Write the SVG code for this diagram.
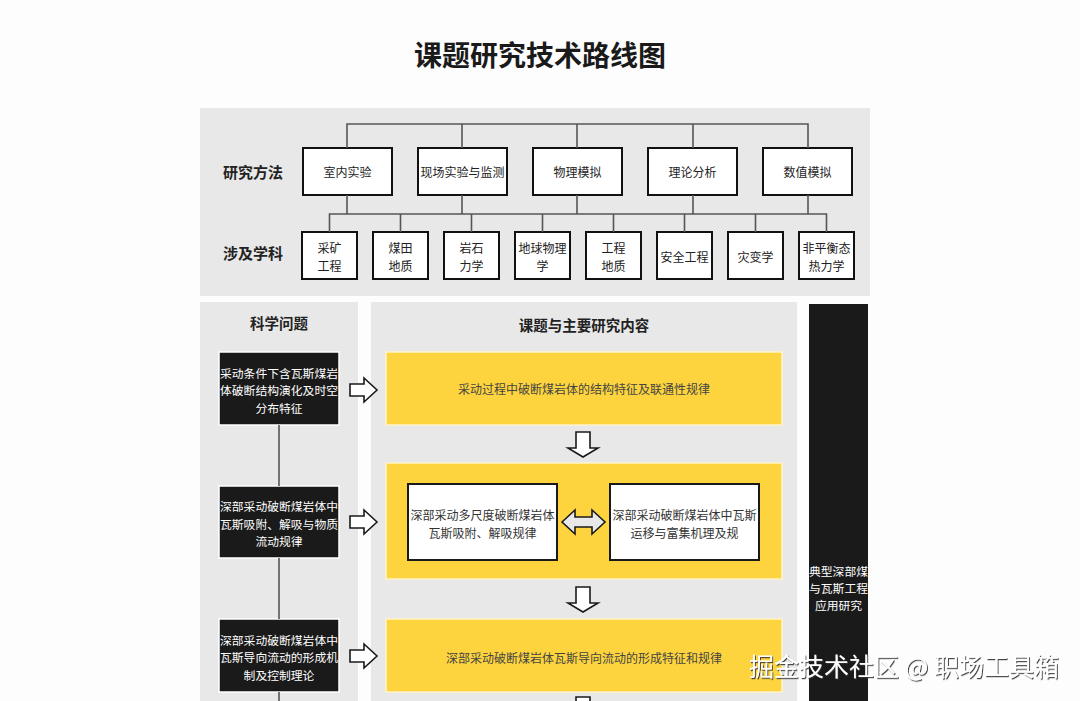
<svg xmlns="http://www.w3.org/2000/svg" width="1080" height="701" viewBox="0 0 1080 701">
<defs>
<style>
text{font-family:"Noto Sans CJK SC","Noto Sans",sans-serif;text-anchor:middle;dominant-baseline:central}
.title{font-size:28px;font-weight:bold;fill:#1a1a1a}
.panel{fill:#e8e8e8}
.rowlab{font-size:15px;font-weight:bold;fill:#222}
.head{font-size:14.5px;font-weight:bold;fill:#222}
.mbox{fill:#fff;stroke:#111;stroke-width:2}
.mt{font-size:12px;fill:#222}
.dark{fill:#1a1a1a;stroke:#fff;stroke-width:1.5}
.wt{font-size:11.8px;fill:#fff}
.yel{fill:#fdd43e;stroke:#fff3c8;stroke-width:1.5}
.yt{font-size:12px;fill:#444}
.ibox{fill:#fff;stroke:#1a1a1a;stroke-width:2}
.it{font-size:12px;fill:#333}
.ln{stroke:#555;stroke-width:1.6;fill:none}
.harrow{fill:#fff;stroke:#1a1a1a;stroke-width:1.6;stroke-linejoin:miter}
.darrow{fill:#e8e8e8;stroke:#1a1a1a;stroke-width:1.6}
.wm{font-size:25px;fill:#fff;text-anchor:middle}
</style>
<filter id="sh" x="-5%" y="-20%" width="110%" height="150%">
<feDropShadow dx="1" dy="1.2" stdDeviation="0.6" flood-color="#333" flood-opacity="0.9"/>
</filter>
</defs>
<rect width="1080" height="701" fill="#fdfdfd"/>
<text class="title" x="540" y="54">课题研究技术路线图</text>

<!-- panels -->
<rect class="panel" x="200" y="108" width="670" height="188"/>
<rect class="panel" x="200" y="302" width="158" height="399"/>
<rect class="panel" x="371" y="302" width="426" height="399"/>

<g id="label-methods"><text class="rowlab" x="253" y="171">研究方法</text></g>
<g id="label-subjects"><text class="rowlab" x="253" y="252">涉及学科</text></g>

<!-- methods -->
<g id="m1"><rect class="mbox" x="303" y="148" width="89" height="47"/><text class="mt" x="347.5" y="171">室内实验</text></g>
<g id="m2"><rect class="mbox" x="418" y="148" width="89" height="47"/><text class="mt" x="462.5" y="171">现场实验与监测</text></g>
<g id="m3"><rect class="mbox" x="533" y="148" width="89" height="47"/><text class="mt" x="577.5" y="171">物理模拟</text></g>
<g id="m4"><rect class="mbox" x="648" y="148" width="89" height="47"/><text class="mt" x="692.5" y="171">理论分析</text></g>
<g id="m5"><rect class="mbox" x="763" y="148" width="89" height="47"/><text class="mt" x="807.5" y="171">数值模拟</text></g>

<!-- subjects -->
<g id="s1"><rect class="mbox" x="302" y="232" width="55" height="47"/><text class="mt" x="329.5" y="247">采矿</text><text class="mt" x="329.5" y="265">工程</text></g>
<g id="s2"><rect class="mbox" x="373" y="232" width="55" height="47"/><text class="mt" x="400.5" y="247">煤田</text><text class="mt" x="400.5" y="265">地质</text></g>
<g id="s3"><rect class="mbox" x="444" y="232" width="55" height="47"/><text class="mt" x="471.5" y="247">岩石</text><text class="mt" x="471.5" y="265">力学</text></g>
<g id="s4"><rect class="mbox" x="515" y="232" width="55" height="47"/><text class="mt" x="542.5" y="247">地球物理</text><text class="mt" x="542.5" y="265">学</text></g>
<g id="s5"><rect class="mbox" x="586" y="232" width="55" height="47"/><text class="mt" x="613.5" y="247">工程</text><text class="mt" x="613.5" y="265">地质</text></g>
<g id="s6"><rect class="mbox" x="657" y="232" width="55" height="47"/><text class="mt" x="684.5" y="256">安全工程</text></g>
<g id="s7"><rect class="mbox" x="728" y="232" width="55" height="47"/><text class="mt" x="755.5" y="256">灾变学</text></g>
<g id="s8"><rect class="mbox" x="799" y="232" width="55" height="47"/><text class="mt" x="826.5" y="247">非平衡态</text><text class="mt" x="826.5" y="265">热力学</text></g>

<!-- headers -->
<g id="h-left"><text class="head" x="279" y="322">科学问题</text></g>
<g id="h-mid"><text class="head" x="584" y="324">课题与主要研究内容</text></g>

<!-- scientific problems -->
<g id="p1"><rect class="dark" x="219" y="352" width="120" height="73"/>
<text class="wt" x="279" y="372">采动条件下含瓦斯煤岩</text><text class="wt" x="279" y="389.5">体破断结构演化及时空</text><text class="wt" x="279" y="407">分布特征</text></g>
<g id="p2"><rect class="dark" x="219" y="486" width="120" height="72"/>
<text class="wt" x="279" y="505.5">深部采动破断煤岩体中</text><text class="wt" x="279" y="523">瓦斯吸附、解吸与物质</text><text class="wt" x="279" y="540.5">流动规律</text></g>
<g id="p3"><rect class="dark" x="219" y="619" width="120" height="73"/>
<text class="wt" x="279" y="639">深部采动破断煤岩体中</text><text class="wt" x="279" y="656.5">瓦斯导向流动的形成机</text><text class="wt" x="279" y="674">制及控制理论</text></g>

<!-- research contents -->
<g id="c1"><rect class="yel" x="386" y="352" width="396" height="73"/><text class="yt" x="584" y="388">采动过程中破断煤岩体的结构特征及联通性规律</text></g>
<g id="c2"><rect class="yel" x="386" y="463" width="396" height="116"/></g>
<g id="c2a"><rect class="ibox" x="408" y="484" width="149" height="76"/><text class="it" x="482.5" y="514">深部采动多尺度破断煤岩体</text><text class="it" x="482.5" y="532">瓦斯吸附、解吸规律</text></g>
<g id="c2b"><rect class="ibox" x="610" y="484" width="149" height="76"/><text class="it" x="684.5" y="514">深部采动破断煤岩体中瓦斯</text><text class="it" x="684.5" y="532">运移与富集机理及规</text></g>
<g id="c3"><rect class="yel" x="386" y="619" width="396" height="73"/><text class="yt" x="584" y="657">深部采动破断煤岩体瓦斯导向流动的形成特征和规律</text></g>

<!-- application -->
<g id="app"><rect x="809" y="304" width="59" height="397" fill="#1a1a1a"/>
<text class="wt" x="838.5" y="570">典型深部煤</text><text class="wt" x="838.5" y="587">与瓦斯工程</text><text class="wt" x="838.5" y="604">应用研究</text></g>

<!-- connectors -->
<g id="connectors">
<path class="ln" d="M347,148 V124 H808 V148 M462,124 V148 M577,124 V148 M693,124 V148"/>
<path class="ln" d="M347,195 V214 M462,195 V214 M577,195 V214 M693,195 V214 M808,195 V214"/>
<path class="ln" d="M329.5,232 V214 H826.5 V232 M400.5,214 V232 M471.5,214 V232 M542.5,214 V232 M613.5,214 V232 M684.5,214 V232 M755.5,214 V232"/>
<path class="ln" d="M279,425 V486 M279,558 V619 M279,692 V701"/>
<polygon class="harrow" points="350,384 364,384 364,378 377,390 364,402 364,396 350,396"/>
<polygon class="harrow" points="350,516 364,516 364,510 377,522 364,534 364,528 350,528"/>
<polygon class="harrow" points="350,650 364,650 364,644 377,656 364,668 364,662 350,662"/>
<polygon class="harrow" points="576,432 590,432 590,448 598,448 583,457 568,448 576,448"/>
<polygon class="harrow" points="576,587 590,587 590,603 598,603 583,612 568,603 576,603"/>
<polygon class="harrow" points="576,697 590,697 590,713 598,713 583,722 568,713 576,713"/>
<polygon class="darrow" points="562,522 575,510 575,517 592,517 592,510 605,522 592,534 592,527 575,527 575,534"/>
</g>

<text class="wm" x="904" y="665" filter="url(#sh)">掘金技术社区 @ 职场工具箱</text>
</svg>
